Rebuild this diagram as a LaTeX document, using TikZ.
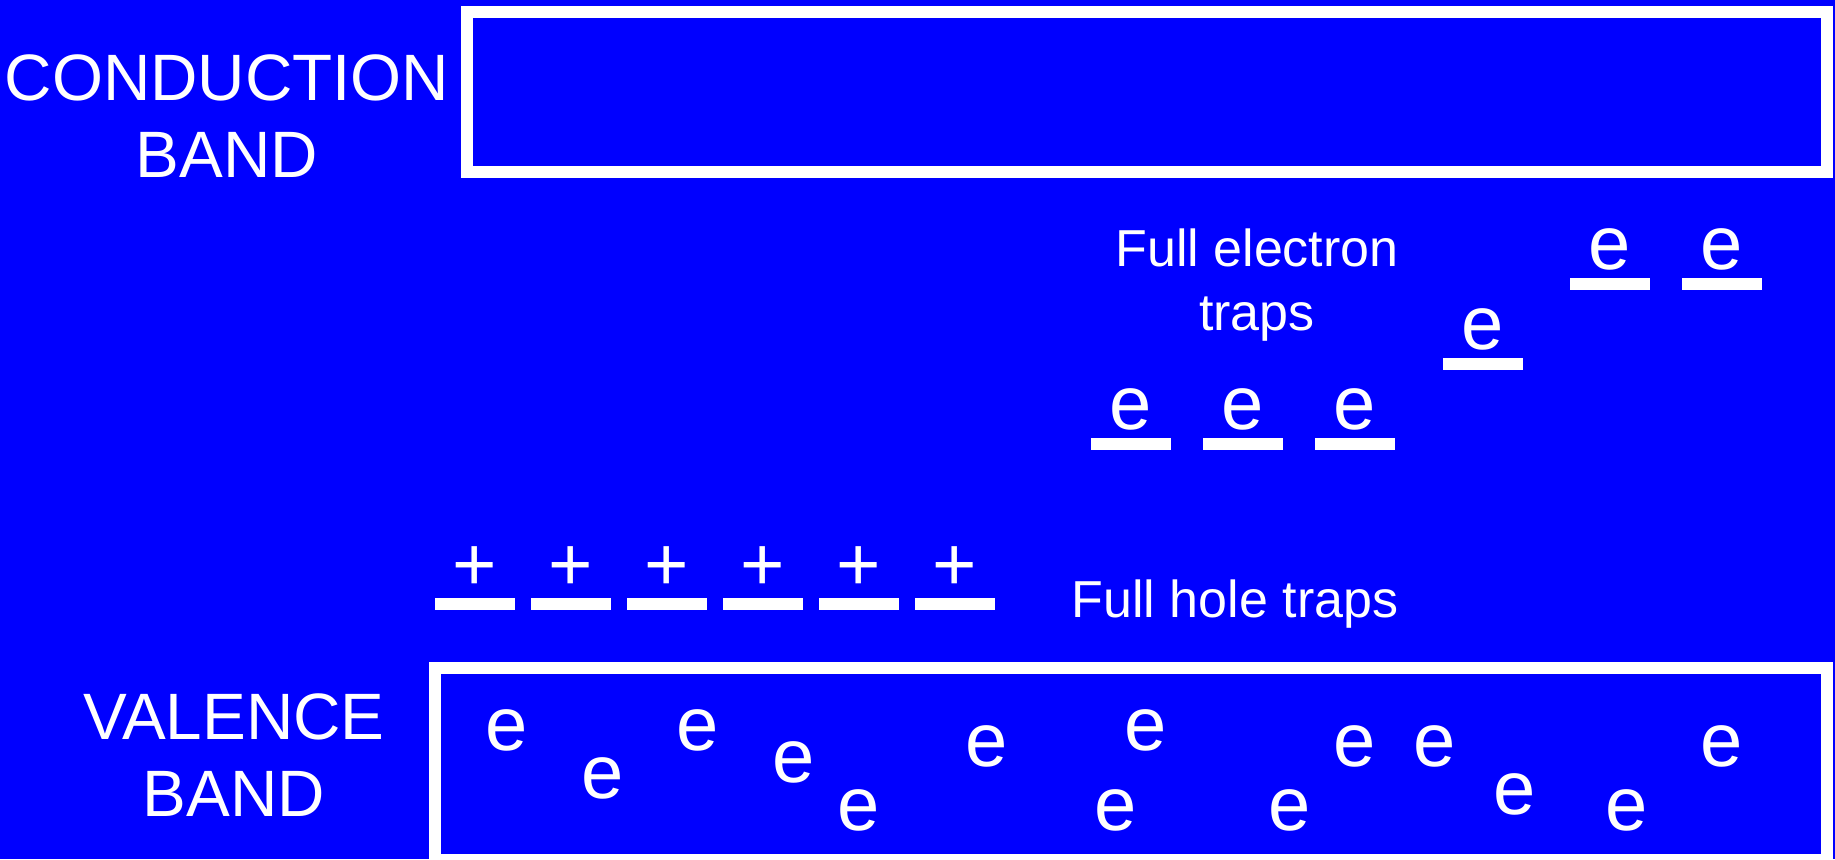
\documentclass[tikz,border=0pt]{standalone}
\usepackage{fontspec}
\setmainfont{Liberation Sans}
\definecolor{bgblue}{RGB}{0,0,255}
\begin{document}
\begin{tikzpicture}[x=1pt,y=-1pt,
  band/.style={draw=white, line width=12pt, inner sep=0pt},
  bandlabel/.style={text=white, font=\fontsize{65.6pt}{77pt}\selectfont, align=center, anchor=base, inner sep=0pt},
  traplabel/.style={text=white, font=\fontsize{52pt}{64pt}\selectfont, align=center, anchor=base, inner sep=0pt},
  trapbar/.style={fill=white, minimum width=80pt, minimum height=12pt, inner sep=0pt},
  carrier/.style={text=white, font=\fontsize{76pt}{76pt}\selectfont, inner sep=0pt, anchor=base},
]
\useasboundingbox[fill=bgblue] (0,0) rectangle (1835,859);
\clip (0,0) rectangle (1835,859);

% bands
\node[band, minimum width=1360pt, minimum height=160pt] (cb) at (1147,92) {};
\node[band, minimum width=1392pt, minimum height=192pt] (vb) at (1131,764) {};
\node[bandlabel] (cbl) at (227,177) {CONDUCTION\\BAND};
\node[bandlabel] (vbl) at (234,816) {VALENCE\\BAND};

% electron traps
\node[trapbar] (eb1) at (1131,444) {};
\node[trapbar] (eb2) at (1243,444) {};
\node[trapbar] (eb3) at (1355,444) {};
\node[trapbar] (eb4) at (1483,364) {};
\node[trapbar] (eb5) at (1610,284) {};
\node[trapbar] (eb6) at (1722,284) {};
\foreach \i in {1,...,6}{
  \node[carrier] (ee\i) at ([yshift=8pt]eb\i.north) {e};
}
\node[traplabel] (etl) at (1257,330) {Full electron\\traps};

% hole traps
\foreach \i/\x in {1/475,2/571,3/667,4/763,5/859,6/955}{
  \node[trapbar] (hb\i) at (\x,604) {};
  \node[carrier] (hp\i) at ([yshift=7pt]hb\i.north) {+};
}
\node[traplabel] (htl) at (1235,617) {Full hole traps};

% valence electrons
\foreach \i/\x/\y in {1/507/750,2/603/798,3/698/750,4/794/782,5/859/830,6/987/766,7/1146/750,8/1116/830,9/1290/830,10/1355/766,11/1435/766,12/1515/814,13/1627/830,14/1722/766}{
  \node[carrier] (ve\i) at (\x,\y) {e};
}
\end{tikzpicture}
\end{document}
